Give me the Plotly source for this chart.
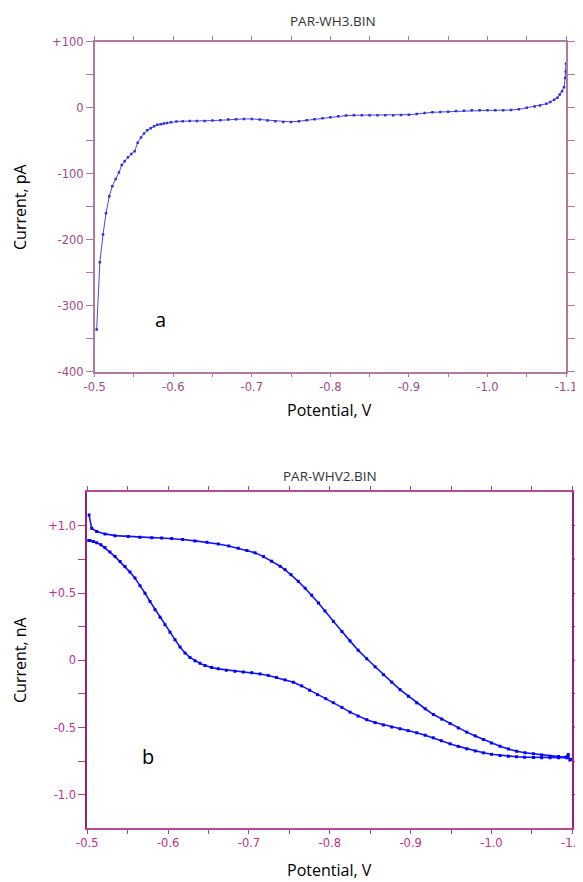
import plotly.graph_objects as go

# ---------------- Panel a (PAR-WH3.BIN) ----------------
pot_a = [-0.5025, -0.5066, -0.5106, -0.5144, -0.5186, -0.5224, -0.5267, -0.5309, -0.5344, -0.5382,
         -0.5424, -0.5466, -0.5509, -0.5547, -0.5589, -0.5628, -0.567, -0.5713, -0.5755, -0.5797,
         -0.584, -0.588, -0.592, -0.597, -0.604, -0.612, -0.621, -0.63, -0.64, -0.65,
         -0.66, -0.67, -0.68, -0.69, -0.70, -0.71, -0.72, -0.73, -0.74, -0.75,
         -0.76, -0.77, -0.78, -0.79, -0.80, -0.81, -0.82, -0.83, -0.84, -0.85,
         -0.86, -0.87, -0.88, -0.89, -0.90, -0.91, -0.92, -0.93, -0.94, -0.95,
         -0.96, -0.97, -0.98, -0.99, -1.00, -1.01, -1.02, -1.03, -1.04, -1.05,
         -1.06, -1.067, -1.075, -1.080, -1.085, -1.089, -1.092, -1.095, -1.0975, -1.099,
         -1.0996, -1.1]
cur_a = [-336, -234, -192, -160, -134, -119, -108, -98, -87, -81,
         -75, -70, -66, -53, -45, -39, -34, -31, -28, -26,
         -25, -24, -23, -22, -21, -20.5, -20, -20, -20, -19.5,
         -19, -18, -17.5, -17, -17, -18, -19.5, -20.5, -21.5, -21.5,
         -20.5, -19, -17.5, -16, -14.5, -13, -12, -11.5, -11.5, -11.5,
         -11.5, -11.5, -11.5, -11, -10.5, -9.5, -8, -7, -6.5, -6,
         -5, -4.5, -4, -4, -4, -4, -4, -3.5, -2.5, 0,
         2, 3.5, 6, 8.5, 12, 15, 20, 25, 31, 45,
         55, 67]

# ---------------- Panel b (PAR-WHV2.BIN) ----------------
pot_b = [-0.5021, -0.5054, -0.5116, -0.5219, -0.5343, -0.5507, -0.565, -0.5797, -0.592, -0.6044,
         -0.618, -0.6332, -0.648, -0.662, -0.675, -0.6868, -0.6975, -0.7075, -0.718, -0.728,
         -0.7386, -0.7446, -0.752, -0.761, -0.7695, -0.7776, -0.786, -0.794, -0.8044, -0.815,
         -0.825, -0.835, -0.8457, -0.856, -0.8663, -0.8766, -0.8869, -0.8972, -0.9075, -0.918,
         -0.9282, -0.9385, -0.9487, -0.959, -0.9694, -0.98, -0.99, -1.0, -1.0106, -1.021,
         -1.0312, -1.0415, -1.0518, -1.062, -1.0724, -1.083, -1.093, -1.095, -1.097, -1.1,
         -1.093, -1.083, -1.0724, -1.062, -1.052, -1.041, -1.031, -1.021, -1.0106, -1.0,
         -0.99, -0.98, -0.9694, -0.959, -0.9487, -0.938, -0.928, -0.918, -0.9075, -0.897,
         -0.8869, -0.8766, -0.8663, -0.856, -0.8457, -0.835, -0.825, -0.815, -0.8044, -0.795,
         -0.7848, -0.775, -0.7652, -0.755, -0.7446, -0.734, -0.7239, -0.7137, -0.7034, -0.693,
         -0.6827, -0.672, -0.662, -0.6538, -0.6456, -0.6394, -0.6332, -0.627, -0.6209, -0.6147,
         -0.6085, -0.6023, -0.5961, -0.59, -0.5838, -0.5776, -0.5714, -0.5652, -0.559, -0.5528,
         -0.5466, -0.5405, -0.5343, -0.528, -0.5219, -0.5168, -0.5116, -0.5075, -0.5033, -0.5005]
cur_b = [1.082, 0.983, 0.958, 0.941, 0.928, 0.921, 0.916, 0.913, 0.910, 0.906,
         0.899, 0.889, 0.878, 0.866, 0.851, 0.834, 0.817, 0.800, 0.772, 0.738,
         0.70, 0.675, 0.638, 0.588, 0.537, 0.485, 0.427, 0.368, 0.29, 0.215,
         0.145, 0.076, 0.012, -0.048, -0.106, -0.162, -0.218, -0.267, -0.316, -0.36,
         -0.403, -0.437, -0.47, -0.503, -0.534, -0.562, -0.589, -0.615, -0.639, -0.659,
         -0.676, -0.687, -0.695, -0.705, -0.713, -0.716, -0.717, -0.70, -0.742, -0.735,
         -0.725, -0.725, -0.725, -0.724, -0.722, -0.72, -0.717, -0.713, -0.708, -0.699,
         -0.688, -0.674, -0.658, -0.64, -0.621, -0.598, -0.576, -0.557, -0.539, -0.523,
         -0.509, -0.496, -0.481, -0.463, -0.441, -0.415, -0.385, -0.35, -0.315, -0.285,
         -0.255, -0.222, -0.19, -0.163, -0.145, -0.127, -0.112, -0.101, -0.093, -0.087,
         -0.081, -0.073, -0.063, -0.053, -0.039, -0.022, -0.002, 0.022, 0.055, 0.10,
         0.154, 0.21, 0.265, 0.32, 0.376, 0.438, 0.5, 0.556, 0.612, 0.657,
         0.698, 0.736, 0.772, 0.806, 0.839, 0.86, 0.876, 0.885, 0.891, 0.891]

# ---------------- Ticks ----------------
x_tickvals = [-0.5, -0.55, -0.6, -0.65, -0.7, -0.75, -0.8, -0.85, -0.9, -0.95, -1.0, -1.05, -1.1]
x_ticktext = ["-0.5", "", "-0.6", "", "-0.7", "", "-0.8", "", "-0.9", "", "-1.0", "", "-1.1"]
ya_tickvals = [100, 50, 0, -50, -100, -150, -200, -250, -300, -350, -400]
ya_ticktext = ["+100", "", "0", "", "-100", "", "-200", "", "-300", "", "-400"]
yb_tickvals = [1.0, 0.75, 0.5, 0.25, 0.0, -0.25, -0.5, -0.75, -1.0]
yb_ticktext = ["+1.0", "", "+0.5", "", "0", "", "-0.5", "", "-1.0"]

# The page body has an 8px default margin, so the figure is sized and
# positioned to compensate for it.
OFF = 8
W, H = 583 - OFF, 882 - OFF


def px_x(p):
    return (p - OFF) / W


def px_y(p):
    return 1 - (p - OFF) / H


fig = go.Figure()
fig.add_trace(go.Scatter(
    x=pot_a, y=cur_a, mode="lines+markers", xaxis="x", yaxis="y",
    line=dict(color="#4848e8", width=1),
    marker=dict(symbol="square", size=2.5, color="#3030e0"),
    showlegend=False, hoverinfo="skip"))
fig.add_trace(go.Scatter(
    x=pot_b, y=cur_b, mode="lines+markers", xaxis="x2", yaxis="y2",
    line=dict(color="#1414ff", width=1.6),
    marker=dict(symbol="square", size=3, color="#0000ff"),
    showlegend=False, hoverinfo="skip"))

tick_font_a = dict(family="DejaVu Sans", size=11.5, color="#a04a84")
tick_font_b = dict(family="DejaVu Sans", size=11.5, color="#c0308a")

fig.update_layout(
    width=W, height=H,
    margin=dict(l=0, r=0, t=0, b=0, autoexpand=False),
    paper_bgcolor="white", plot_bgcolor="white",
    xaxis=dict(domain=[px_x(94.7), px_x(566)], range=[-0.5, -1.1], anchor="y",
               tickvals=x_tickvals, ticktext=x_ticktext, ticks="outside", ticklen=4,
               tickcolor="#b07aa0", tickwidth=1, showline=True, linecolor="#b07aa0",
               linewidth=1.5, mirror="ticks", showgrid=False, zeroline=False,
               tickfont=tick_font_a, ticklabeloverflow="allow"),
    yaxis=dict(domain=[px_y(371.7), px_y(41.7)], range=[-400, 100], anchor="x",
               tickvals=ya_tickvals, ticktext=ya_ticktext, ticks="outside", ticklen=7,
               tickcolor="#b07aa0", tickwidth=1, showline=True, linecolor="#b07aa0",
               linewidth=1.5, mirror="ticks", showgrid=False, zeroline=False,
               tickfont=tick_font_a),
    xaxis2=dict(domain=[px_x(87.3), px_x(572.3)], range=[-0.5, -1.1], anchor="y2",
                tickvals=x_tickvals, ticktext=x_ticktext, ticks="outside", ticklen=4,
                tickcolor="#b0408a", tickwidth=1, showline=True, linecolor="#b84a94",
                linewidth=1.8, mirror="ticks", showgrid=False, zeroline=False,
                tickfont=tick_font_b, ticklabeloverflow="allow"),
    yaxis2=dict(domain=[px_y(827.7), px_y(491.7)], range=[-1.245, 1.255], anchor="x2",
                tickvals=yb_tickvals, ticktext=yb_ticktext, ticks="outside", ticklen=7,
                tickcolor="#b0408a", tickwidth=1, showline=True, linecolor="#96207a",
                linewidth=1.8, mirror="ticks", showgrid=False, zeroline=False,
                tickfont=tick_font_b),
)

title_font = dict(family="Open Sans", size=13.5, color="#333333")
label_font = dict(family="Open Sans", size=16, color="#000000")
letter_font = dict(family="Open Sans", size=20, color="#000000")

annots = [
    dict(text="PAR-WH3.BIN", x=px_x(333), y=px_y(20.7), font=title_font),
    dict(text="Potential, V", x=px_x(329), y=px_y(410), font=label_font),
    dict(text="Current, pA", x=px_x(20), y=px_y(207), font=label_font, textangle=-90),
    dict(text="a", x=px_x(160), y=px_y(319), font=letter_font),
    dict(text="PAR-WHV2.BIN", x=px_x(330), y=px_y(476), font=title_font),
    dict(text="Potential, V", x=px_x(329), y=px_y(870), font=label_font),
    dict(text="Current, nA", x=px_x(20), y=px_y(660), font=label_font, textangle=-90),
    dict(text="b", x=px_x(148), y=px_y(756), font=letter_font),
]
for a in annots:
    fig.add_annotation(xref="paper", yref="paper", showarrow=False,
                       xanchor="center", yanchor="middle", **a)

fig.write_html("out.html")
